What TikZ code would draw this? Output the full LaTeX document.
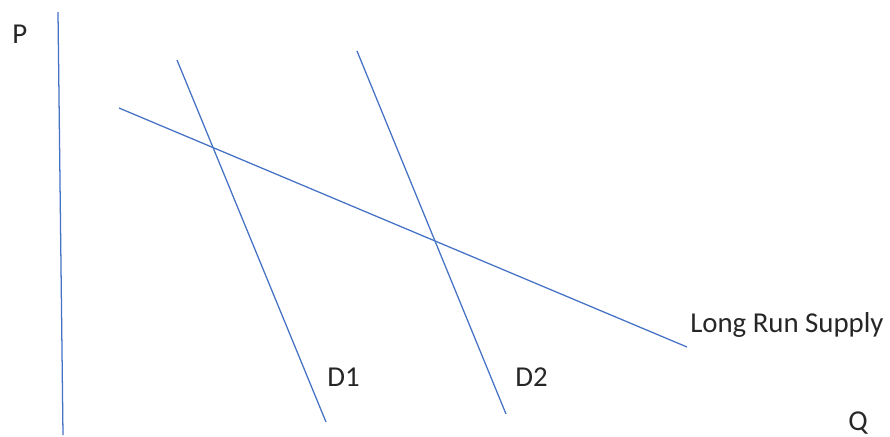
\documentclass[tikz,border=0pt]{standalone}
\usepackage{fontspec}
\setmainfont{Carlito}
\usepackage{xcolor}
\usepackage{tikz}
\definecolor{lineblue}{RGB}{68,114,196}
\tikzset{curve/.style={draw=lineblue, line width=0.9pt},
  lbl/.style={anchor=base west, inner sep=0pt, font=\fontsize{20.5}{24}\selectfont, text=black!85}}

\begin{document}
\begin{tikzpicture}[x=0.025cm, y=-0.025cm]
\useasboundingbox (0,0) rectangle (890,436);
\coordinate (ytop) at (58,12);
\coordinate (ybot) at (63,435);
\coordinate (s1) at (119,108);
\coordinate (s2) at (687,347);
\coordinate (d1a) at (177,60);
\coordinate (d1b) at (326,422);
\coordinate (d2a) at (357,51);
\coordinate (d2b) at (506,414);
\draw[curve] (ytop) -- (ybot);
\draw[curve] (s1) -- (s2);
\draw[curve] (d1a) -- (d1b);
\draw[curve] (d2a) -- (d2b);
\node[lbl] (p) at (12,43) {P};
\node[lbl] (q) at (848,430) {Q};
\node[lbl] (lrs) at (690,332) {Long Run Supply};
\node[lbl] (dA) at (327,386) {D1};
\node[lbl] (dB) at (515,386) {D2};
\end{tikzpicture}
\end{document}
